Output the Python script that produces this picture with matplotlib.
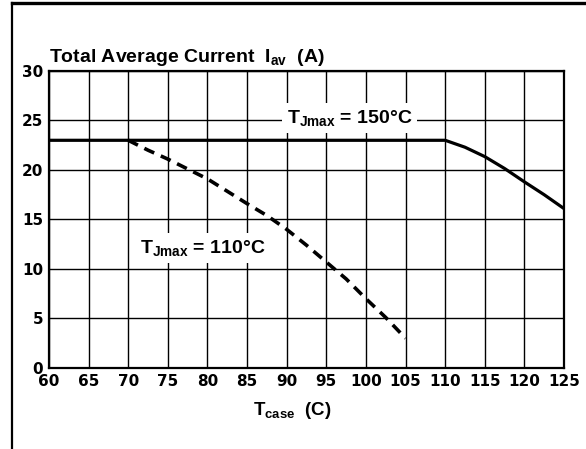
import matplotlib.pyplot as plt
from matplotlib.lines import Line2D

plt.rcParams['font.family'] = ['Liberation Sans', 'DejaVu Sans']
plt.rcParams['font.weight'] = 'bold'
plt.rcParams['mathtext.fontset'] = 'custom'
plt.rcParams['mathtext.rm'] = 'Liberation Sans:bold'
plt.rcParams['mathtext.it'] = 'Liberation Sans:bold'
plt.rcParams['mathtext.bf'] = 'Liberation Sans:bold'

# derating curves
t_case_150 = [60, 110, 112.5, 115, 117.5, 120, 122.5, 125]
i_av_150 = [23, 23, 22.3, 21.35, 20.15, 18.8, 17.5, 16.1]

t_case_110 = [70, 72.5, 75, 77.5, 80, 82.5, 85, 87.5, 90, 92.5, 95, 97.5,
              100, 102.5, 105]
i_av_110 = [23, 22.0, 21.1, 20.1, 19.1, 17.85, 16.6, 15.4, 14.0, 12.4, 10.7,
            9.0, 7.0, 5.1, 3.0]

x_ticks = list(range(60, 130, 5))
y_ticks = list(range(0, 35, 5))

fig = plt.figure(figsize=(5.86, 4.49), dpi=100)
ax = fig.add_axes([0.0836, 0.1804, 0.8789, 0.6615])

ax.set_xlim(60, 125)
ax.set_ylim(0, 30)
ax.set_xticks(x_ticks)
ax.set_yticks(y_ticks)
ax.set_xticklabels([str(v) for v in x_ticks], family='DejaVu Sans',
                   fontsize=11, fontweight='bold')
ax.set_yticklabels([str(v) for v in y_ticks], family='DejaVu Sans',
                   fontsize=11, fontweight='bold')
ax.tick_params(length=0, pad=4.3)
ax.grid(True, color='black', lw=1.0)
ax.set_axisbelow(True)
for s in ax.spines.values():
    s.set_linewidth(1.6)

ax.plot(t_case_150, i_av_150, color='black', lw=2.3, zorder=4,
        solid_capstyle='butt')
ax.plot(t_case_110, i_av_110, color='black', lw=2.6, ls=(0, (3, 2)),
        zorder=4)

box = dict(facecolor='white', edgecolor='none', pad=3.5)
ax.text(90.0, 24.75, r'T$_{\mathrm{Jmax}}$ = 150°C', fontsize=14,
        va='baseline', ha='left', bbox=box, zorder=3)
ax.text(71.5, 11.6, r'T$_{\mathrm{Jmax}}$ = 110°C', fontsize=14,
        va='baseline', ha='left', bbox=box, zorder=3)

ax.text(0, 1.031, r'Total Average Current  I$_{\mathrm{av}}$  (A)',
        transform=ax.transAxes, fontsize=14, va='baseline', ha='left')
ax.text(0.396, -0.158, r'T$_{\mathrm{case}}$  (C)', transform=ax.transAxes,
        fontsize=13.5, va='baseline', ha='left')

# page frame (top and left rules)
fig.add_artist(Line2D([12 / 586, 1], [1 - 3 / 449, 1 - 3 / 449],
                      color='black', lw=2.4))
fig.add_artist(Line2D([12 / 586, 12 / 586], [0, 1 - 3 / 449],
                      color='black', lw=1.6))

fig.savefig('out.png', dpi=100)
